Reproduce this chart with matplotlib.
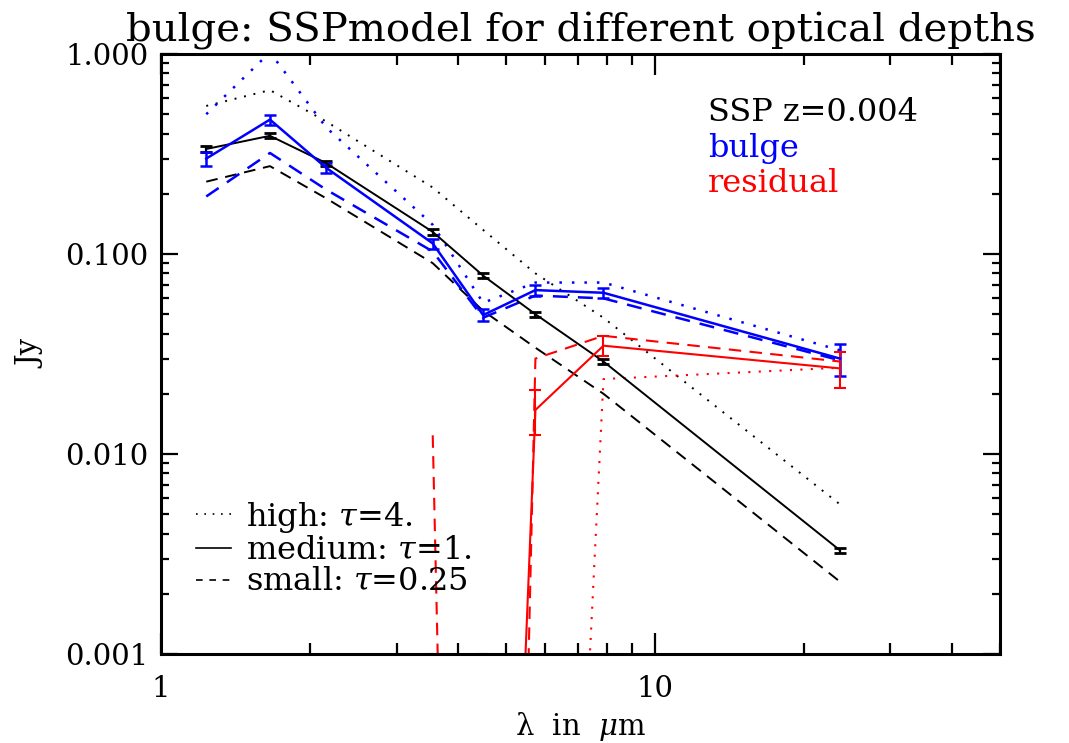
import numpy as np
import matplotlib
matplotlib.use("Agg")
import matplotlib.pyplot as plt
from matplotlib.lines import Line2D
from matplotlib.ticker import FixedLocator, FuncFormatter, LogLocator, NullFormatter

# wavelengths in micron: J, H, K, IRAC 3.6/4.5/5.8/8.0, MIPS 24
wavelength = [1.235, 1.662, 2.159, 3.55, 4.49, 5.73, 7.87, 23.7]

# SSP z=0.004 model (black)
ssp_high = [0.55, 0.66, 0.46, 0.215, 0.132, 0.080, 0.048, 0.0056]
ssp_medium = [0.335, 0.39, 0.285, 0.129, 0.078, 0.050, 0.029, 0.0033]
ssp_medium_err = [0.010, 0.011, 0.008, 0.004, 0.002, 0.0015, 0.0009, 0.0001]
ssp_small = [0.23, 0.275, 0.19, 0.090, 0.052, 0.034, 0.020, 0.0023]

# bulge (blue)
bulge_high = [0.50, 1.02, 0.43, 0.14, 0.057, 0.072, 0.072, 0.033]
bulge_medium = [0.30, 0.47, 0.27, 0.113, 0.0495, 0.066, 0.064, 0.030]
bulge_medium_err = [0.025, 0.027, 0.016, 0.0065, 0.0035, 0.0042, 0.004, 0.0054]
bulge_small = [0.194, 0.32, 0.21, 0.103, 0.048, 0.062, 0.060, 0.0294]

# residual (red); nan = negative flux, not drawn on log axes
resid_high = [np.nan, np.nan, np.nan, np.nan, np.nan, 3e-9, 0.0237, 0.027]
resid_medium = [np.nan, np.nan, np.nan, 1e-9, 6e-9, 0.0166, 0.0348, 0.0268]
resid_medium_lo = [0, 0, 0, 0, 0, 0.0042, 0.004, 0.0054]
resid_medium_hi = [0, 0, 0, 0.001, 0.001, 0.0042, 0.004, 0.0054]
resid_small = [np.nan, np.nan, np.nan, 0.0124, 1e-13, 0.030, 0.039, 0.029]

plt.rcParams["font.family"] = ["DejaVu Serif"]
plt.rcParams["mathtext.fontset"] = "dejavuserif"

fig = plt.figure(figsize=(10.69, 7.43), dpi=100)
ax = fig.add_axes([0.1506, 0.1198, 0.7849, 0.8075])

dotted = (0, (1, 4))
dashed = (0, (6, 4))

# black: SSP
ax.plot(wavelength, ssp_high, color="black", lw=1.4, linestyle=dotted)
ax.plot(wavelength, ssp_small, color="black", lw=1.4, linestyle=dashed)
ax.errorbar(wavelength, ssp_medium, yerr=ssp_medium_err, color="black", lw=1.4,
            elinewidth=1.6, capsize=4, capthick=2)

# blue: bulge
ax.plot(wavelength, bulge_high, color="blue", lw=1.8, linestyle=dotted)
ax.plot(wavelength, bulge_small, color="blue", lw=1.8, linestyle=dashed)
ax.errorbar(wavelength, bulge_medium, yerr=bulge_medium_err, color="blue", lw=1.8,
            elinewidth=1.8, capsize=4, capthick=1.8)

# red: residual
ax.plot(wavelength, resid_high, color="red", lw=1.5, linestyle=dotted)
ax.plot(wavelength, resid_small, color="red", lw=1.5, linestyle=dashed)
ax.errorbar(wavelength, resid_medium, yerr=[resid_medium_lo, resid_medium_hi],
            color="red", lw=1.5, elinewidth=1.5, capsize=4, capthick=1.5)

ax.set_xscale("log")
ax.set_yscale("log")
ax.set_xlim(1, 50)
ax.set_ylim(0.001, 1.0)

ax.xaxis.set_major_locator(FixedLocator([1, 10]))
ax.xaxis.set_minor_locator(LogLocator(base=10, subs=np.arange(2, 10)))
ax.xaxis.set_minor_formatter(NullFormatter())
ax.xaxis.set_major_formatter(FuncFormatter(lambda v, p: "%d" % v))
ax.yaxis.set_major_locator(FixedLocator([0.001, 0.01, 0.1, 1.0]))
ax.yaxis.set_minor_locator(LogLocator(base=10, subs=np.arange(2, 10)))
ax.yaxis.set_minor_formatter(NullFormatter())
ax.yaxis.set_major_formatter(FuncFormatter(lambda v, p: "%.3f" % v))

ax.tick_params(which="both", direction="in", top=True, right=True, width=1.6,
               labelsize=21)
ax.tick_params(axis="x", which="major", length=15, pad=15)
ax.tick_params(axis="x", which="minor", length=8)
ax.tick_params(axis="y", which="major", length=12, pad=9)
ax.tick_params(axis="y", which="minor", length=6)
for s in ax.spines.values():
    s.set_linewidth(2.2)

ax.set_xlabel(r"$\mathrm{\lambda\ \ in}\ \ \mu\mathrm{m}$", fontsize=21, labelpad=5)
ax.set_ylabel("Jy", fontsize=21, labelpad=14)
ax.set_title("bulge: SSPmodel for different optical depths", fontsize=29, pad=9)

ax.text(0.652, 0.902, "SSP z=0.004", color="black", fontsize=23,
        transform=ax.transAxes, va="center")
ax.text(0.652, 0.842, "bulge", color="blue", fontsize=23,
        transform=ax.transAxes, va="center")
ax.text(0.652, 0.784, "residual", color="red", fontsize=23,
        transform=ax.transAxes, va="center")

handles = [
    Line2D([], [], color="black", lw=1.2, linestyle=dotted),
    Line2D([], [], color="black", lw=1.2),
    Line2D([], [], color="black", lw=1.2, linestyle=(0, (4, 4))),
]
labels = [r"high: $\tau$=4.", r"medium: $\tau$=1.", r"small: $\tau$=0.25"]
ax.legend(handles, labels, loc="lower left", bbox_to_anchor=(0.023, 0.067),
          frameon=False, fontsize=23, handlelength=1.1, handletextpad=0.45,
          labelspacing=0.02, borderpad=0)

fig.savefig("out.png", dpi=100)
